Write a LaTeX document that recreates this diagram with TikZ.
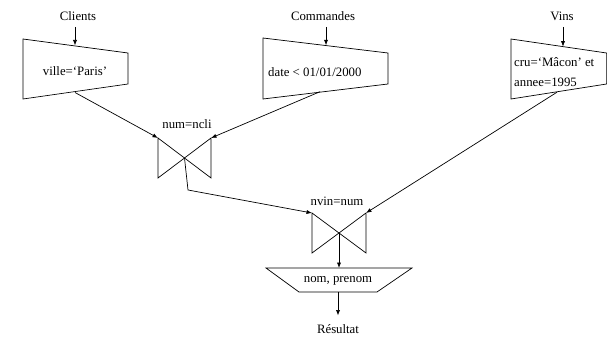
\documentclass[tikz,border=0pt]{standalone}
\usepackage{fontspec}
\setmainfont{Liberation Serif}
\newfontfamily\timesfont{Liberation Serif}
\usetikzlibrary{arrows.meta}
\tikzset{
  txt/.style={inner sep=0pt, font=\timesfont\fontsize{12.8}{19.5}\selectfont},
  shp/.style={draw, line width=0.7pt, line join=miter},
  conn/.style={draw, line width=0.7pt, -{Latex[length=5.5pt,width=4.2pt]}},
  plain/.style={draw, line width=0.7pt}
}
\begin{document}
\begin{tikzpicture}[x=1pt,y=-1pt]
\useasboundingbox (0,0) rectangle (607,337);
% input labels
\node[txt] (lcli) at (78,16) {Clients};
\node[txt] (lcmd) at (323,16) {Commandes};
\node[txt] (lvin) at (562,16) {Vins};
% selection Clients
\coordinate (c1) at (23,39); \coordinate (c2) at (128,53);
\coordinate (c3) at (128,84); \coordinate (c4) at (23,99);
\draw[shp] (c1) -- (c2) -- (c3) -- (c4) -- cycle;
\node[txt] (tcli) at (75,71) {ville=‘Paris’};
\coordinate (cin) at (75,45.5); \coordinate (cout) at (75,92.5);
\coordinate (cla) at (75,27);
% selection Commandes
\coordinate (d1) at (263,38); \coordinate (d2) at (388,53);
\coordinate (d3) at (388,84); \coordinate (d4) at (263,99);
\draw[shp] (d1) -- (d2) -- (d3) -- (d4) -- cycle;
\node[txt, anchor=west] (tcmd) at (268,72) {date < 01/01/2000};
\coordinate (din) at (326,45.3); \coordinate (dout) at (320,91.7);
\coordinate (dla) at (326,27);
% selection Vins
\coordinate (v1) at (511,39); \coordinate (v2) at (606.6,53);
\coordinate (v3) at (606.6,84); \coordinate (v4) at (511,99);
\draw[shp] (v1) -- (v2) -- (v3) -- (v4) -- cycle;
\node[txt, anchor=west, align=left] (tvin) at (514,72) {cru=‘Mâcon’ et\\annee=1995};
\coordinate (vin) at (563,46.6); \coordinate (vout) at (557,92.2);
\coordinate (vla) at (563,27);
% join 1
\coordinate (j1a) at (158,138); \coordinate (j1b) at (211,138);
\coordinate (j1c) at (211,178); \coordinate (j1d) at (158,178);
\coordinate (j1x) at (184.5,158);
\draw[shp] (j1a) -- (j1c) -- (j1b) -- (j1d) -- cycle;
\node[txt] (lj1) at (187,124) {num=ncli};
% join 2
\coordinate (j2a) at (312,213); \coordinate (j2b) at (366,213);
\coordinate (j2c) at (366,253); \coordinate (j2d) at (312,253);
\coordinate (j2x) at (339,233);
\draw[shp] (j2a) -- (j2c) -- (j2b) -- (j2d) -- cycle;
\node[txt] (lj2) at (337,201) {nvin=num};
% projection
\coordinate (p1) at (266,268); \coordinate (p2) at (412,268);
\coordinate (p3) at (377,292); \coordinate (p4) at (299,292);
\draw[shp] (p1) -- (p2) -- (p3) -- (p4) -- cycle;
\node[txt] (tpro) at (338,281) {nom, prenom};
\coordinate (pin) at (339,268); \coordinate (pout) at (338,292);
\node[txt] (res) at (338,329) {Résultat};
\coordinate (resin) at (338,315.5);
\coordinate (bend) at (188,190);
% connectors
\draw[conn] (cla) -- (cin);
\draw[conn] (dla) -- (din);
\draw[conn] (vla) -- (vin);
\draw[conn] (cout) -- (j1a);
\draw[conn] (dout) -- (j1b);
\draw[conn] (j1x) -- (bend) -- (j2a);
\draw[conn] (vout) -- (j2b);
\draw[conn] (j2x) -- (pin);
\draw[conn] (pout) -- (resin);
\end{tikzpicture}
\end{document}
